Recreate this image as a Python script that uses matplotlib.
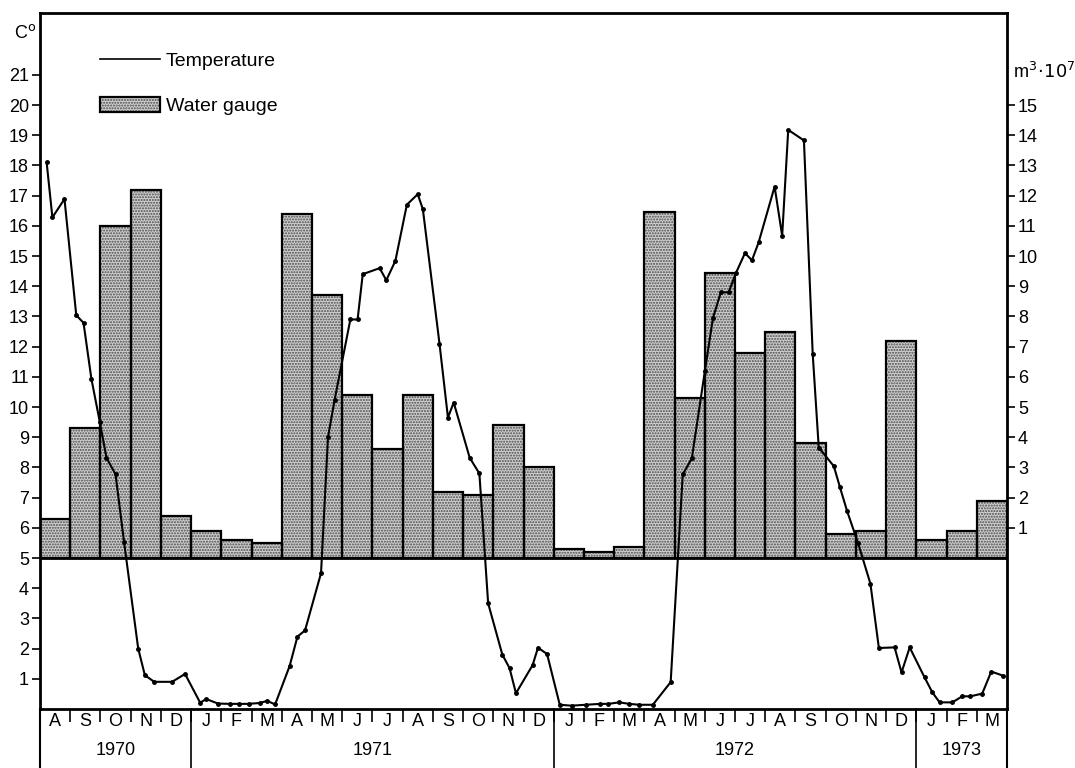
import numpy as np
import matplotlib.pyplot as plt
from matplotlib.lines import Line2D
from matplotlib.patches import Patch
from matplotlib.legend_handler import HandlerTuple

plt.rcParams['font.family'] = ['Liberation Sans', 'DejaVu Sans']
plt.rcParams['hatch.color'] = '#4a4a4a'
plt.rcParams['hatch.linewidth'] = 1.0

# months from Aug 1970 to Mar 1973
months = ['A', 'S', 'O', 'N', 'D',
          'J', 'F', 'M', 'A', 'M', 'J', 'J', 'A', 'S', 'O', 'N', 'D',
          'J', 'F', 'M', 'A', 'M', 'J', 'J', 'A', 'S', 'O', 'N', 'D',
          'J', 'F', 'M']
years = ['1970', '1971', '1972', '1973']
year_start = [0, 5, 17, 29, 32]

# water gauge, m3 * 10^7 (right axis)
gauge = [1.3, 4.3, 11.0, 12.2, 1.4,
         0.9, 0.6, 0.5, 11.4, 8.7, 5.4, 3.6, 5.4, 2.2, 2.1, 4.4, 3.0,
         0.3, 0.2, 0.35, 11.45, 5.3, 9.45, 6.8, 7.5, 3.8, 0.8, 0.9, 7.2,
         0.6, 0.9, 1.9]

# temperature readings, time in months since 1 Aug 1970
temp_t = [0.22, 0.41, 0.81, 1.2, 1.44, 1.7, 1.98, 2.2, 2.5, 2.78,
          3.25, 3.47, 3.78, 4.37, 4.8, 5.3, 5.5, 5.89, 6.28, 6.6,
          6.9, 7.28, 7.52, 7.78, 8.26, 8.52, 8.77, 9.3, 9.53, 9.75,
          10.27, 10.51, 10.68, 11.24, 11.46, 11.76, 12.14, 12.5, 12.67, 13.22,
          13.5, 13.69, 14.22, 14.54, 14.83, 15.3, 15.54, 15.75, 16.3, 16.48,
          16.78, 17.2, 17.59, 18.06, 18.53, 18.81, 19.17, 19.5, 19.83, 20.28,
          20.87, 21.27, 21.57, 22.0, 22.27, 22.53, 22.79, 23.03, 23.33, 23.56,
          23.78, 24.31, 24.56, 24.76, 25.28, 25.57, 25.77, 26.27, 26.47, 26.71,
          27.07, 27.48, 27.76, 28.28, 28.51, 28.78, 29.27, 29.53, 29.77, 30.19,
          30.52, 30.79, 31.18, 31.48, 31.88]
temp_c = [18.1, 16.28, 16.89, 13.04, 12.79, 10.94, 9.5, 8.32, 7.77, 5.54,
          2.0, 1.12, 0.9, 0.9, 1.16, 0.21, 0.33, 0.18, 0.17, 0.17,
          0.17, 0.2, 0.27, 0.15, 1.42, 2.4, 2.6, 4.5, 9.0, 10.24,
          12.9, 12.9, 14.4, 14.6, 14.2, 14.84, 16.7, 17.05, 16.55, 12.1,
          9.65, 10.15, 8.32, 7.8, 3.5, 1.8, 1.35, 0.52, 1.45, 2.03,
          1.82, 0.14, 0.11, 0.14, 0.17, 0.17, 0.22, 0.17, 0.14, 0.14,
          0.89, 7.77, 8.3, 11.18, 12.95, 13.8, 13.8, 14.44, 15.1, 14.86,
          15.45, 17.3, 15.67, 19.18, 18.83, 11.77, 8.66, 8.04, 7.35, 6.55,
          5.5, 4.15, 2.02, 2.04, 1.21, 2.04, 1.05, 0.55, 0.22, 0.22,
          0.42, 0.42, 0.51, 1.24, 1.1]

fig = plt.figure(figsize=(10.75, 7.68), dpi=100)
ax = fig.add_axes([40 / 1075, 59 / 768, 967 / 1075, 696 / 768])
ax.set_xlim(0, 32)
ax.set_ylim(0, 23.05)

x = np.arange(len(gauge))
# bars start at the 5 degree line (= 0 on the right scale)
ax.bar(x, gauge, width=1, bottom=5, align='edge', color='#cfcfcf',
       hatch='......', linewidth=0, zorder=2)
ax.bar(x, gauge, width=1, bottom=5, align='edge', fill=False,
       edgecolor='black', linewidth=1.6, zorder=3)
ax.axhline(5, color='black', linewidth=2, zorder=4)

ax.plot(temp_t, temp_c, color='black', linewidth=1.5, marker='o',
        markersize=2.5, zorder=5)

for s in ax.spines.values():
    s.set_linewidth(2)

ax.set_yticks(range(1, 22))
ax.tick_params(axis='y', direction='out', length=6, width=1.2, labelsize=13, pad=2)
ax.set_xticks(range(0, 33))
ax.set_xticks(np.arange(0.5, 32), minor=True)
ax.set_xticklabels([])
ax.set_xticklabels(months, minor=True)
ax.tick_params(axis='x', which='major', direction='out', length=9, width=1.2)
ax.tick_params(axis='x', which='minor', length=0, labelsize=13, pad=3)

ax2 = ax.twinx()
ax2.set_ylim(-5, 18.05)
ax2.set_yticks(range(1, 16))
ax2.tick_params(axis='y', direction='out', length=6, width=1.2, labelsize=13, pad=2)
for s in ax2.spines.values():
    s.set_visible(False)

ax.text(-0.5, 22.4, r'C$^{\mathrm{o}}$', fontsize=13, ha='center', va='center')
ax.text(32.2, 21.1, r'm$^3\!\cdot\!10^7$', fontsize=13, ha='left', va='center')

# year band below the month letters
tr = ax.get_xaxis_transform()
for xs in [0, 5, 17, 29, 32]:
    ax.plot([xs, xs], [0, -0.086], color='black', linewidth=1.5 if xs in (0, 32) else 1.2,
            transform=tr, clip_on=False)
for i, yr in enumerate(years):
    mid = (year_start[i] + year_start[i + 1]) / 2
    ax.text(mid, -0.06, yr, transform=tr, ha='center', va='center', fontsize=13)

handles = [Line2D([], [], color='black', linewidth=1.2),
           (Patch(facecolor='#cfcfcf', hatch='......', linewidth=0),
            Patch(fill=False, edgecolor='black', linewidth=1.6))]
ax.legend(handles, ['Temperature', 'Water gauge'], loc='upper left',
          bbox_to_anchor=(0.062, 0.945), frameon=False, fontsize=14,
          handlelength=3.1, handleheight=0.85, handletextpad=0.3,
          labelspacing=1.4, borderpad=0, borderaxespad=0,
          handler_map={tuple: HandlerTuple(ndivide=1, pad=0)})

fig.savefig('out.png', dpi=100)
